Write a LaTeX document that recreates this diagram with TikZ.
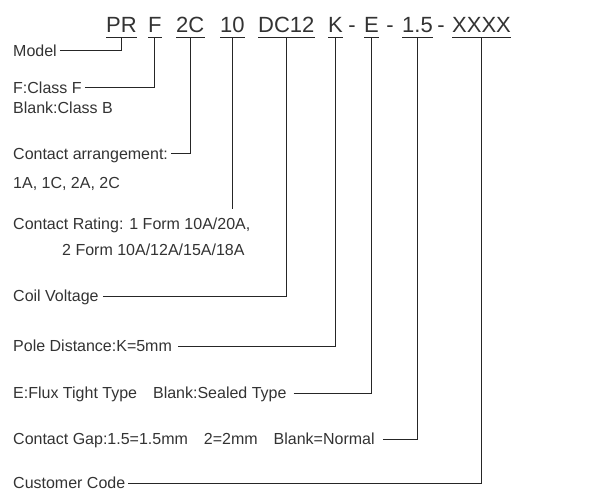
\documentclass[tikz,border=0pt]{standalone}
\usepackage{fontspec}
\setmainfont{Liberation Sans}
\usepackage{tikz}
\usetikzlibrary{positioning,calc}
\definecolor{ink}{HTML}{333333}
\newcommand{\gp}{\hspace{16pt}}

\begin{document}
\begin{tikzpicture}[x=1pt,y=-1pt,
  code/.style={anchor=base west,inner xsep=0pt,inner ysep=4pt,text depth=0pt,font=\fontsize{22}{22}\selectfont,text=ink},
  lbl/.style={anchor=west,inner sep=0pt,text height=11.5pt,text depth=0pt,font=\fontsize{16}{16}\selectfont,text=ink},
  link/.style={draw=black!85,line width=1pt,shorten <=3pt},
  uline/.style={draw=black!85,line width=1pt},
  elbow/.style={to path={-| (\tikztotarget)}}]
\useasboundingbox (0,0) rectangle (608,492);
% code line
\node[code] (pr)   at (106,33) {PR};
\node[code] (cls)  at (148,33) {F};
\node[code] (arr)  at (176,33) {2C};
\node[code] (rate) at (220,33) {10};
\node[code] (coil) at (258,33) {DC12};
\node[code] (pole) at (328,33) {K};
\node[code,anchor=base] (d1) at (352,33) {-};
\node[code] (flux) at (364,33) {E};
\node[code,anchor=base] (d2) at (390,33) {-};
\node[code] (gap)  at (402,33) {1.5};
\node[code,anchor=base] (d3) at (441,33) {-};
\node[code] (cust) at (452,33) {XXXX};
\foreach \c in {pr,cls,arr,rate,coil,pole,flux,gap,cust}
  \draw[uline] (\c.south west) -- (\c.south east);
%
\node[lbl] (model)    at (13,51)  {Model};
\node[lbl] (classf)   at (13,88)  {F:Class F};
\node[lbl] (classb)   at (13,108) {Blank:Class B};
\node[lbl] (arrlbl)   at (13,154) {Contact arrangement:};
\node[lbl] (arrlist)  at (13,183) {1A, 1C, 2A, 2C};
\node[lbl] (ratelbl)  at (13,224) {Contact Rating: 1 Form 10A/20A,};
\node[lbl] (ratelbl2) at (62,250) {2 Form 10A/12A/15A/18A};
\node[lbl] (coillbl)  at (13,296) {Coil Voltage};
\node[lbl] (polelbl)  at (13,346) {Pole Distance:K=5mm};
\node[lbl] (fluxlbl)  at (13,393) {E:Flux Tight Type\gp Blank:Sealed Type};
\node[lbl] (gaplbl)   at (13,439) {Contact Gap:1.5=1.5mm\gp 2=2mm\gp Blank=Normal};
\node[lbl] (custlbl)  at (13,483) {Customer Code};
\coordinate (rateend) at ($(rate.south)+(0,172)$);
%
\path[link]
	(model.east)   edge[elbow]                (pr.south)
	(classf.east)  edge[elbow]                (cls.south)
	(arrlbl.east)  edge[elbow]                (arr.south)
	(coillbl.east) edge[elbow,shorten <=4pt]  (coil.south)
	(polelbl.east) edge[elbow,shorten <=6pt]  (pole.south)
	(fluxlbl.east) edge[elbow,shorten <=7pt]  (flux.south)
	(gaplbl.east)  edge[elbow,shorten <=8pt]  (gap.south)
	(custlbl.east) edge[elbow]                (cust.south)
; %-path-%
\draw[uline] (rate.south) -- (rateend);
\end{tikzpicture}
\end{document}
